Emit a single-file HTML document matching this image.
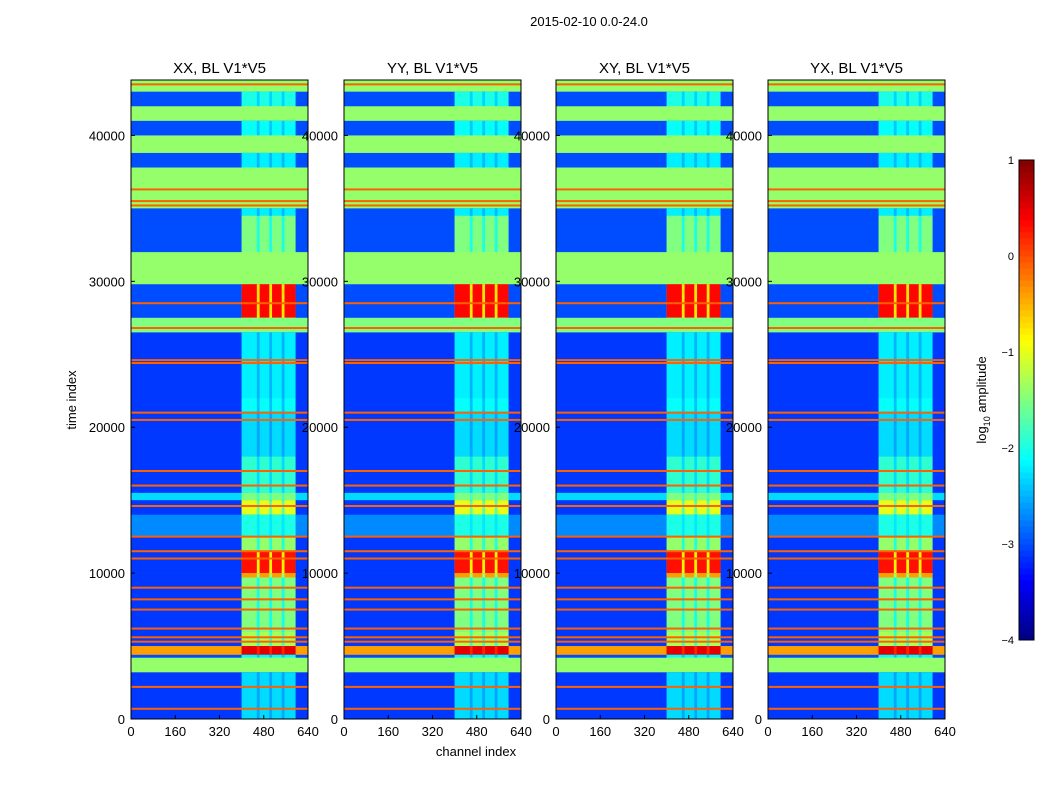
<!DOCTYPE html>
<html><head><meta charset="utf-8">
<style>
body{margin:0;background:#fff;font-family:"Liberation Sans",sans-serif;}
svg text{font-family:"Liberation Sans",sans-serif;}
</style></head>
<body>
<svg id="fig" width="1050" height="800" xmlns="http://www.w3.org/2000/svg">
<rect width="1050" height="800" fill="#fff"/>
<text x="589" y="26" font-size="13" text-anchor="middle">2015-02-10 0.0-24.0</text>
<text x="476" y="756" font-size="13" text-anchor="middle">channel index</text>
<text transform="translate(76,400) rotate(-90)" font-size="13" text-anchor="middle">time index</text>
<g id="panels"></g>
<g id="cbar"></g>
</svg>
<script>
// ---- data ----
const panelTitles = ["XX, BL V1*V5","YY, BL V1*V5","XY, BL V1*V5","YX, BL V1*V5"];
const xTicks = [0,160,320,480,640];
const yTicks = [0,10000,20000,30000,40000];
const rowStart = [43000,42000,41000,40000,38800,37800,35000,34500,32000,29800,27500,26500,22000,21000,18000,15500,15000,14000,12500,11500,10000,9700,6000,5000,4400,4200,3200,0];
const rowEnd   = [43800,43000,42000,41000,40000,38800,37800,35000,34500,32000,29800,27500,26500,22000,21000,18000,15500,15000,14000,12500,11500,10000,9700,6000,5000,4400,4200,3200];
const bgVals   = [-1.4,-3.0,-1.4,-3.0,-1.4,-3.0,-1.4,-3.0,-3.0,-1.4,-3.0,-1.5,-3.1,-3.1,-3.1,-3.1,-2.3,-3.1,-2.7,-3.1,-3.1,-3.1,-3.1,-3.1,-0.4,-3.0,-1.4,-3.1];
const rfiVals  = [-1.4,-2.0,-1.4,-2.1,-1.4,-2.2,-1.4,-2.2,-1.5,-1.4,0.35,-1.5,-2.2,-2.1,-2.3,-1.9,-1.5,-1.0,-2.0,-1.4,0.3,-0.4,-1.5,-1.3,0.5,-2.1,-1.4,-2.3];
const lineTimes = [43500,36300,35500,35200,28500,26800,24600,24400,21000,20500,17000,16000,14600,12500,11500,11000,9000,8200,7500,6200,5600,5300,2200,700];
const rfiBandStart = [400,465,510,555];
const rfiBandEnd   = [455,500,545,595];
const cbTicks = [-4,-3,-2,-1,0,1];
// ---- layout ----
const panelX = [131,344,556,768], panelW = 177, topY = 80, bottomY = 719;
const tMax = 43800, chMax = 640;
const NS = "http://www.w3.org/2000/svg";
function jet(v){ let t=(v+4)/5; t=Math.max(0,Math.min(1,t));
  const r=Math.max(0,Math.min(1,1.5-Math.abs(4*t-3))), g=Math.max(0,Math.min(1,1.5-Math.abs(4*t-2))), b=Math.max(0,Math.min(1,1.5-Math.abs(4*t-1)));
  return `rgb(${Math.round(r*255)},${Math.round(g*255)},${Math.round(b*255)})`; }
function mk(tag,attrs,parent){const e=document.createElementNS(NS,tag);for(const k in attrs)e.setAttribute(k,attrs[k]);parent.appendChild(e);return e;}
const panels=document.getElementById("panels");
panelX.forEach((px,pi)=>{
  const g=mk("g",{},panels);
  
  
  const xs=c=>px+c/chMax*panelW, ys=t=>bottomY-t/tMax*(bottomY-topY);
  for(let i=0;i<rowStart.length;i++){
    const y1=ys(rowEnd[i]), y2=ys(rowStart[i]);
    const bg=mk("rect",{x:xs(0),y:y1,width:xs(chMax)-xs(0),height:y2-y1+0.3,fill:jet(bgVals[i])},g);
    
    
    const gap=mk("rect",{x:xs(rfiBandStart[0]),y:y1,width:xs(rfiBandEnd[rfiBandEnd.length-1])-xs(rfiBandStart[0]),height:y2-y1+0.3,fill:jet((bgVals[i]+rfiVals[i]*2)/3)},g);
    
    
    for(let j=0;j<rfiBandStart.length;j++){
      const c=mk("rect",{x:xs(rfiBandStart[j]),y:y1,width:xs(rfiBandEnd[j])-xs(rfiBandStart[j]),height:y2-y1+0.3,fill:jet(rfiVals[i])},g);
      
      
    }
  }
  lineTimes.forEach(t=>{
    const l=mk("rect",{x:xs(0),y:ys(t)-1,width:panelW,height:2,fill:jet(-0.1)},g);
    
    
  });
  mk("rect",{x:px,y:topY,width:panelW,height:bottomY-topY,fill:"none",stroke:"#000","stroke-width":1},g);
  const tt=mk("text",{x:px+panelW/2,y:topY-7,"font-size":15,"text-anchor":"middle"},g);
  tt.textContent=panelTitles[pi];
  
  
  xTicks.forEach(v=>{
    mk("line",{x1:xs(v),x2:xs(v),y1:bottomY,y2:bottomY-4,stroke:"#000"},g);
    const t=mk("text",{x:xs(v),y:bottomY+17,"font-size":13,"text-anchor":"middle"},g);
    t.textContent=v;
    
    
  });
  yTicks.forEach(v=>{
    mk("line",{x1:px,x2:px+4,y1:ys(v),y2:ys(v),stroke:"#000"},g);
    const t=mk("text",{x:px-6,y:ys(v)+5,"font-size":13,"text-anchor":"end"},g);
    t.textContent=v;
    
    
  });
});
// colorbar
const cb=document.getElementById("cbar");


const cbX=1019,cbW=15,cbT=160,cbB=640;
const N=80;
for(let i=0;i<N;i++){
  const v=-4+5*(i+0.5)/N;
  const y=cbB-(i+1)*(cbB-cbT)/N;
  mk("rect",{x:cbX,y:y,width:cbW,height:(cbB-cbT)/N+0.5,fill:jet(v)},cb);
}
mk("rect",{x:cbX,y:cbT,width:cbW,height:cbB-cbT,fill:"none",stroke:"#000"},cb);
cbTicks.forEach(v=>{
  const y=cbB-(v+4)/5*(cbB-cbT);
  const t=mk("text",{x:cbX-5,y:y+4,"font-size":11,"text-anchor":"end"},cb);
  t.textContent=(v<0?"\u2212"+(-v):v);
  
  
});
const cl=mk("text",{transform:"translate(986,400) rotate(-90)","font-size":13,"text-anchor":"middle"},cb);
cl.innerHTML='log<tspan font-size="9" dy="4">10</tspan><tspan dy="-4"> amplitude</tspan>';


</script>
</body></html>
